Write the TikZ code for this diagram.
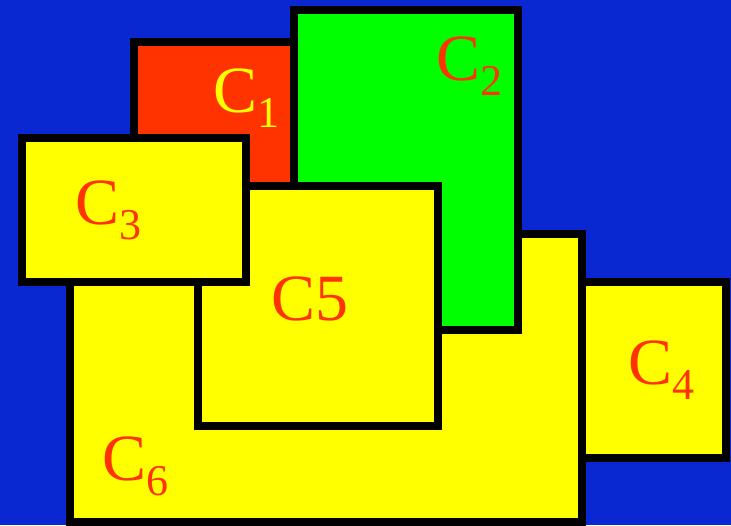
\documentclass[tikz,border=0pt]{standalone}
\usepackage{fontspec}
\newfontfamily\labfont{Liberation Serif}
\definecolor{bgblue}{RGB}{10,40,210}
\definecolor{cred}{RGB}{255,51,0}
\definecolor{cgreen}{RGB}{0,255,0}
\definecolor{cyellow}{RGB}{255,255,0}
\newcommand{\clab}[1]{C\lower15pt\hbox{\fontsize{44}{44}\selectfont #1}}

\begin{document}
\begin{tikzpicture}[x=1pt,y=-1pt,line join=miter,font=\labfont\fontsize{66}{66}\selectfont]
	\tikzset{box/.style={draw=black,line width=8pt},lab/.style={anchor=base west,inner sep=0pt,text=cred}}
	\fill[bgblue] (0,0) rectangle (731,525);
	\useasboundingbox (0,0) rectangle (731,525);
	
	% regions, back to front
	\filldraw[box,fill=cyellow] (70,234) rectangle (582,522);
	\filldraw[box,fill=cred] (134,42) rectangle (300,200);
	\filldraw[box,fill=cgreen] (294,10) rectangle (518,330);
	\filldraw[box,fill=cyellow] (198,186) rectangle (438,426);
	\filldraw[box,fill=cyellow] (22,138) rectangle (246,282);
	\filldraw[box,fill=cyellow] (582,282) rectangle (726,458);
	
	\node[lab,text=cyellow] (c1) at (213,112) {\clab{1}};
	\node[lab] (c2) at (436,80) {\clab{2}};
	\node[lab] (c3) at (75,224) {\clab{3}};
	\node[lab] (c4) at (628,384) {\clab{4}};
	\node[lab] (c5) at (271,320) {C5};
	\node[lab] (c6) at (102,480) {\clab{6}};
\end{tikzpicture}
\end{document}
